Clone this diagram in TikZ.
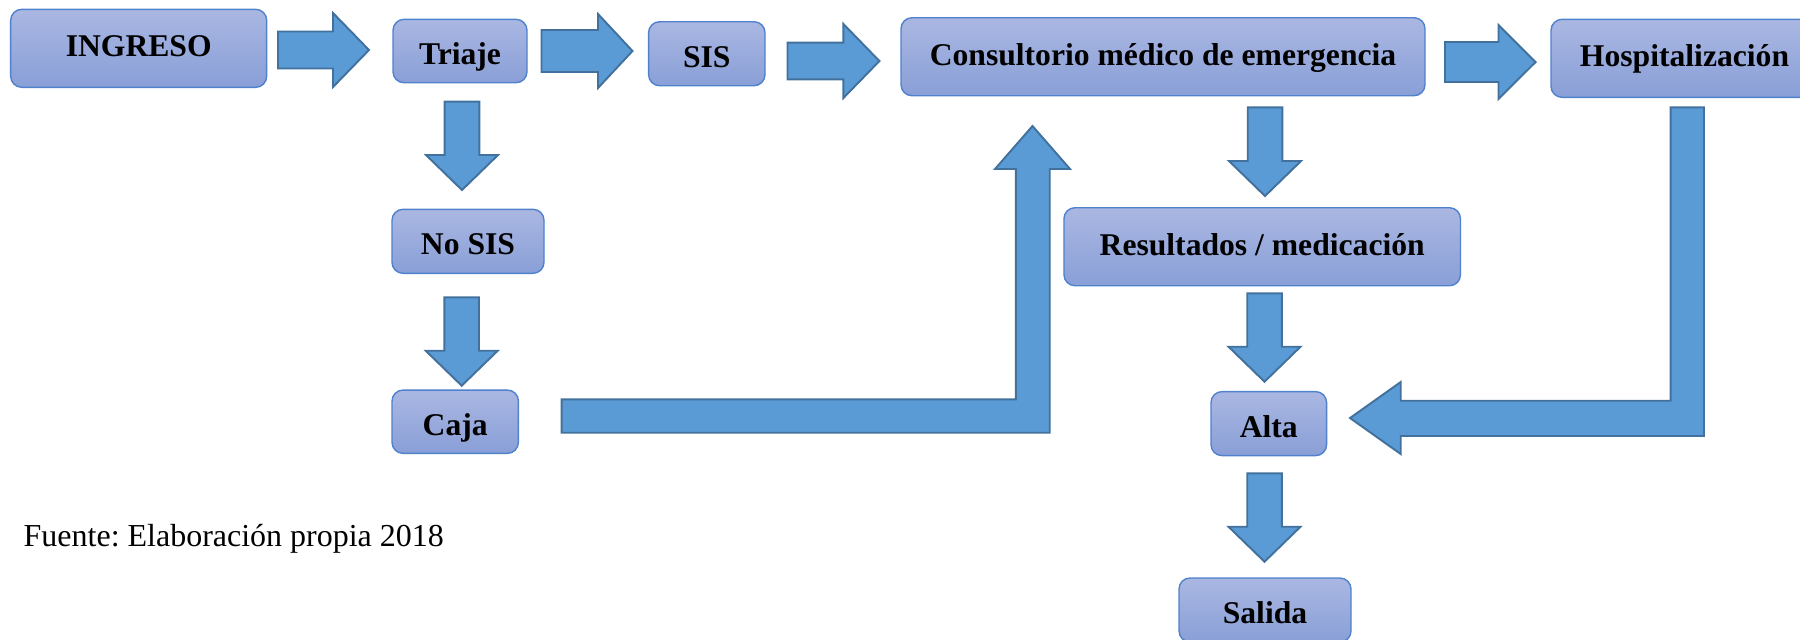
\documentclass[tikz,border=0pt]{standalone}
\usepackage{fontspec}
\setmainfont{Liberation Serif}
\usepackage{tikz}
\usetikzlibrary{positioning,calc}
\usepackage{xcolor}

\definecolor{boxtop}{RGB}{170,183,226}
\definecolor{boxbot}{RGB}{137,159,215}
\definecolor{boxline}{RGB}{79,129,205}
\definecolor{arrowfill}{RGB}{91,155,213}
\definecolor{arrowline}{RGB}{65,113,156}

\tikzset{
  box/.style={draw=boxline, line width=0.4pt, rounded corners=1.1mm,
    top color=boxtop, bottom color=boxbot, inner sep=0pt,
    font=\fontsize{9}{11}\selectfont\bfseries, text height=2.7mm, text depth=0mm},
  tallbox/.style={box, minimum height=7.8mm, text depth=1mm},
  blockarrow/.style={fill=arrowfill, draw=arrowline, line width=0.55pt, line join=miter}
}

\begin{document}
\begin{tikzpicture}[x=0.1mm, y=-0.1mm]
    \useasboundingbox (0,0) rectangle (1800,639);

    % Boxes, top row
    \node[tallbox, minimum width=25.6mm] (ingreso) at (138.7,48.3) {INGRESO};
    \node[box, minimum width=13.4mm, minimum height=6.34mm] (triaje) at (460,51) {Triaje};
    \node[box, minimum width=11.64mm, minimum height=6.4mm] (sis) at (706.8,53.7) {SIS};
    \node[tallbox, minimum width=52.4mm] (consultorio) at (1163,56.7) {Consultorio médico de emergencia};
    \node[tallbox, minimum width=26.7mm] (hosp) at (1684.5,58.3) {Hospitalización};

    % Boxes, left column
    \node[box, minimum width=15.2mm, minimum height=6.4mm] (nosis) at (468,241.3) {No SIS};
    \node[box, minimum width=12.64mm, minimum height=6.33mm] (caja) at (455.2,421.7) {Caja};

    % Boxes, right column
    \node[tallbox, minimum width=39.65mm] (resultados) at (1262.2,246.7) {Resultados / medicación};
    \node[box, minimum width=11.56mm, minimum height=6.4mm] (alta) at (1268.8,423.6) {Alta};
    \node[box, minimum width=17.2mm, minimum height=6.4mm] (salida) at (1265,610) {Salida};

    % Arrows to the right
    \foreach \xa/\xb/\xc/\cy/\sw in {278/333/369/50/18.5, 541.5/598/632.5/51/21,
        787.5/843.4/879.4/61/18.4, 1445/1498.5/1535.6/62/20} {
        \draw[blockarrow] (\xa,\cy-\sw) -- (\xb,\cy-\sw) -- (\xb,\cy-37) -- (\xc,\cy)
            -- (\xb,\cy+37) -- (\xb,\cy+\sw) -- (\xa,\cy+\sw) -- cycle;
    }

    % Arrows downwards
    \foreach \cx/\ya/\yb/\yc in {462/101.7/155/190, 461.7/297.3/350.7/385.7,
        1265/107.3/161/196, 1264.5/293.3/346.7/381.7, 1264.5/473.3/526.7/561.7} {
        \draw[blockarrow] (\cx-17.3,\ya) -- (\cx+17.3,\ya) -- (\cx+17.3,\yb) -- (\cx+36,\yb)
            -- (\cx,\yc) -- (\cx-36,\yb) -- (\cx-17.3,\yb) -- cycle;
    }

    % Bent arrow from Caja up to the consultorio
    \draw[blockarrow] (561.7,399.3) -- (1015.8,399.3) -- (1015.8,169) -- (995,169)
        -- (1032.5,126) -- (1070,169) -- (1049.7,169) -- (1049.7,432.7)
        -- (561.7,432.7) -- cycle;

    % Bent arrow from Hospitalizacion down to Alta
    \draw[blockarrow] (1670.6,107.3) -- (1704,107.3) -- (1704,436) -- (1400.7,436)
        -- (1400.7,454) -- (1350,418) -- (1400.7,382) -- (1400.7,400.7)
        -- (1670.6,400.7) -- cycle;

    % Source note
    \node[anchor=base west, inner sep=0pt, font=\fontsize{9.1}{11}\selectfont] (fuente)
        at (23,546.7) {\frenchspacing Fuente: Elaboración propia 2018};
\end{tikzpicture}
\end{document}
